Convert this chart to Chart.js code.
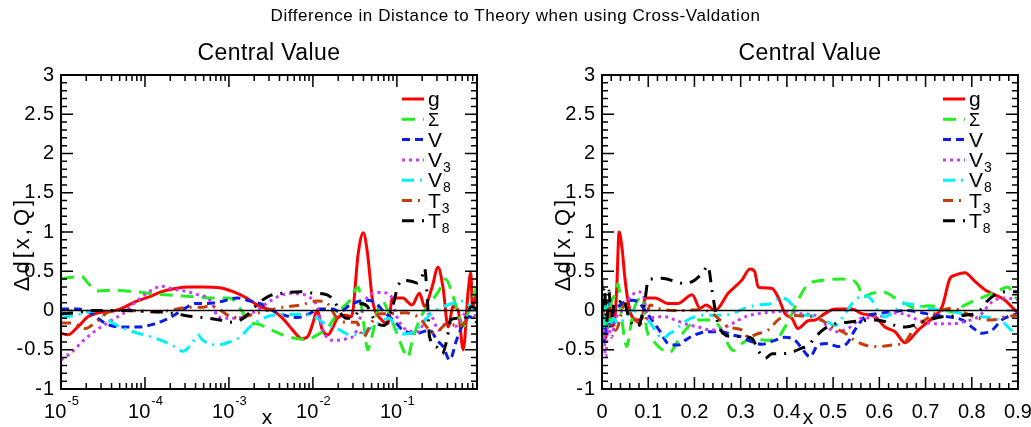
<!DOCTYPE html>
<html>
<head>
<meta charset="utf-8">
<script src="https://cdn.jsdelivr.net/npm/chart.js@4/dist/chart.umd.min.js"></script>
<style>
  body { margin: 0; background: #fff; width: 1031px; height: 427px; overflow: hidden; position: relative; font-family: "Liberation Sans", Arial, sans-serif; }
  #title { position: absolute; top: 6px; left: 0; width: 1031px; text-align: center; font-size: 17px; letter-spacing: 0.55px; color: #000; }
  #c1 { position: absolute; left: 0; top: 0; }
  #c2 { position: absolute; left: 541px; top: 0; }
</style>
</head>
<body>
<canvas id="c1" width="541" height="427"></canvas>
<canvas id="c2" width="490" height="427"></canvas>
<div id="title">Difference in Distance to Theory when using Cross-Valdation</div>
<script>
// series names and legend text (main + subscript)
const seriesNames = ['g', 'Σ', 'V', 'V3', 'V8', 'T3', 'T8'];
const legendMain = ['g', 'Σ', 'V', 'V', 'V', 'T', 'T'];
const legendSub = ['', '', '', '3', '8', '3', '8'];

// ---- left panel, x given as log10(x) ----
const leftX_g = [-5,-4.92,-4.8,-4.68,-4.56,-4.39,-4.27,-4.12,-3.96,-3.8,-3.64,-3.49,-3.32,-3.11,-2.95,-2.79,-2.63,-2.48,-2.36,-2.24,-2.13,-2.06,-2,-1.95,-1.89,-1.82,-1.76,-1.71,-1.62,-1.54,-1.46,-1.4,-1.35,-1.29,-1.18,-1.11,-1.05,-0.93,-0.82,-0.73,-0.67,-0.58,-0.51,-0.45,-0.39,-0.33,-0.27,-0.21,-0.15,-0.12,-0.1,-0.05];
const leftY_g = [-0.29,-0.31,-0.21,-0.08,-0.03,-0.01,0.03,0.11,0.17,0.24,0.28,0.3,0.3,0.29,0.24,0.16,0.05,0,-0.1,-0.25,-0.36,-0.33,-0.16,0,-0.24,-0.31,-0.21,-0.1,-0.06,-0.08,0.73,0.99,0.73,0.13,-0.12,-0.17,0.16,0.16,0.07,0.22,0.05,0.3,0.55,0.29,-0.21,0.05,0,-0.5,0.26,0.48,0.05,0.22];

const leftX_S = [-5,-4.75,-4.68,-4.57,-4.36,-4.12,-3.88,-3.61,-3.37,-3.23,-2.99,-2.85,-2.75,-2.67,-2.49,-2.27,-2.07,-1.98,-1.83,-1.68,-1.56,-1.46,-1.42,-1.38,-1.35,-1.29,-1.23,-1.18,-1.08,-1,-0.94,-0.87,-0.82,-0.76,-0.7,-0.6,-0.5,-0.42,-0.35,-0.28,-0.2,-0.12,-0.05];
const leftY_S = [0.41,0.43,0.35,0.25,0.26,0.24,0.21,0.19,0.17,0.16,0.16,0,-0.16,-0.17,-0.25,-0.34,-0.37,-0.33,-0.22,0,0.13,0.3,0.05,-0.29,-0.5,-0.3,0,0.13,-0.08,-0.29,-0.46,-0.6,-0.4,-0.2,-0.05,0.1,0.25,0.4,0.25,0,-0.2,0.1,0.3];

const leftX_V = [-5,-4.8,-4.63,-4.56,-4.44,-4.27,-4.08,-3.92,-3.76,-3.64,-3.52,-3.4,-3.26,-3.11,-2.9,-2.75,-2.61,-2.48,-2.31,-2.18,-2.04,-1.92,-1.76,-1.68,-1.56,-1.38,-1.29,-1.15,-1,-0.93,-0.76,-0.61,-0.52,-0.45,-0.37,-0.29,-0.21,-0.13,-0.05];
const leftY_V = [0.02,0.02,-0.04,-0.1,-0.18,-0.21,-0.21,-0.18,-0.12,-0.05,0.03,0.09,0.09,0.11,0.16,0.12,0.08,0,-0.07,-0.09,-0.04,0.02,0.02,-0.02,0.07,0.13,0.12,-0.02,-0.17,-0.25,-0.29,-0.25,-0.38,-0.46,-0.63,-0.38,-0.17,-0.08,-0.15];

const leftX_V3 = [-5,-4.87,-4.75,-4.63,-4.48,-4.36,-4.26,-4.15,-4.04,-3.92,-3.8,-3.73,-3.61,-3.49,-3.37,-3.27,-3.18,-3.14,-2.99,-2.83,-2.67,-2.55,-2.43,-2.27,-2.15,-2.04,-1.95,-1.88,-1.76,-1.6,-1.5,-1.41,-1.35,-1.2,-1.08,-1,-0.88,-0.75,-0.61,-0.5,-0.4,-0.3,-0.2,-0.1,-0.05];
const leftY_V3 = [-0.63,-0.53,-0.4,-0.29,-0.18,-0.1,-0.04,0.07,0.17,0.26,0.31,0.29,0.26,0.24,0.2,0.17,0.05,-0.08,-0.1,-0.08,0,0.09,0.17,0.22,0.21,0.17,0.05,-0.25,-0.38,-0.36,-0.3,0,0.17,0.23,0.2,-0.08,-0.25,-0.27,-0.04,-0.25,-0.15,-0.2,-0.05,0.05,-0.1];

const leftX_V8 = [-5,-4.83,-4.68,-4.56,-4.44,-4.27,-4.08,-3.88,-3.68,-3.55,-3.44,-3.37,-3.31,-3.14,-2.99,-2.87,-2.75,-2.63,-2.48,-2.31,-2.15,-2,-1.85,-1.68,-1.56,-1.44,-1.35,-1.23,-1.1,-0.93,-0.8,-0.7,-0.6,-0.45,-0.3,-0.2,-0.12,-0.05];
const leftY_V8 = [-0.09,-0.06,-0.02,0,-0.12,-0.22,-0.29,-0.35,-0.44,-0.52,-0.42,-0.31,-0.38,-0.44,-0.4,-0.34,-0.21,-0.12,-0.06,-0.05,-0.05,-0.07,-0.17,-0.25,-0.31,-0.31,-0.25,-0.17,-0.1,-0.3,-0.28,-0.17,-0.05,0.05,0.1,0.12,0.05,0];

const leftX_T3 = [-5,-4.87,-4.71,-4.6,-4.51,-4.44,-4.27,-4,-3.88,-3.7,-3.49,-3.32,-3.23,-3.11,-2.95,-2.83,-2.71,-2.55,-2.36,-2.15,-1.95,-1.85,-1.71,-1.6,-1.48,-1.4,-1.3,-1.2,-1.08,-0.9,-0.75,-0.55,-0.4,-0.25,-0.12,-0.05];
const leftY_T3 = [-0.16,-0.16,-0.23,-0.16,-0.08,-0.02,0,-0.01,-0.02,0,0.04,0.04,0.06,0.01,-0.09,-0.08,-0.05,0,0.04,0.07,0.12,0.11,-0.1,-0.15,-0.15,-0.34,-0.15,-0.04,-0.04,-0.03,-0.08,-0.29,-0.17,-0.2,-0.08,-0.1];

const leftX_T8 = [-5,-4.83,-4.6,-4.27,-4.04,-3.8,-3.64,-3.49,-3.32,-3.11,-2.95,-2.83,-2.75,-2.63,-2.51,-2.36,-2.15,-1.98,-1.83,-1.74,-1.68,-1.6,-1.5,-1.42,-1.35,-1.25,-1.15,-1.05,-0.99,-0.93,-0.82,-0.76,-0.7,-0.67,-0.64,-0.61,-0.52,-0.46,-0.4,-0.36,-0.28,-0.21,-0.11,-0.05];
const leftY_T8 = [-0.04,-0.03,0,0,-0.01,-0.02,-0.04,-0.07,-0.09,-0.12,-0.15,-0.1,-0.02,0.11,0.19,0.22,0.24,0.22,0.2,0.11,-0.02,-0.1,-0.08,0.09,0.05,-0.15,-0.19,0.05,0.3,0.39,0.37,0.35,0.43,0.54,0.2,-0.34,-0.47,-0.55,-0.35,-0.12,-0.1,-0.12,0.05,0.02];

// ---- right panel, linear x ----
const rightX_g = [0,0.008,0.015,0.022,0.028,0.032,0.037,0.043,0.05,0.056,0.065,0.076,0.087,0.093,0.115,0.143,0.164,0.195,0.212,0.225,0.245,0.273,0.303,0.32,0.33,0.338,0.346,0.368,0.381,0.396,0.411,0.424,0.446,0.461,0.482,0.504,0.541,0.562,0.591,0.612,0.634,0.656,0.684,0.714,0.736,0.753,0.764,0.785,0.807,0.829,0.85,0.872,0.889,0.9];
const rightY_g = [-0.1,-0.35,0.1,-0.2,-0.1,0.3,1,0.81,0.39,0.13,-0.08,-0.12,-0.1,0.16,0.16,0.09,0.09,0.2,0.03,0.07,0,0.22,0.39,0.53,0.5,0.3,0.29,0.28,0.17,-0.04,-0.1,-0.23,-0.13,-0.12,-0.04,0.02,0.02,-0.04,-0.08,-0.21,-0.27,-0.41,-0.25,-0.1,0.05,0.41,0.45,0.48,0.37,0.26,0.2,0.13,0.03,-0.03];

const rightX_S = [0,0.005,0.012,0.02,0.028,0.035,0.043,0.054,0.062,0.071,0.087,0.097,0.108,0.126,0.147,0.165,0.18,0.208,0.235,0.255,0.27,0.284,0.303,0.325,0.353,0.378,0.396,0.411,0.424,0.446,0.46,0.482,0.519,0.541,0.554,0.565,0.584,0.612,0.634,0.656,0.677,0.706,0.736,0.757,0.779,0.807,0.833,0.857,0.878,0.893,0.9];
const rightY_S = [0.42,0,-0.3,0.1,0.2,0.34,-0.12,-0.46,-0.2,0.05,0.17,-0.25,-0.36,-0.48,-0.53,-0.38,-0.25,-0.12,-0.12,-0.21,-0.4,-0.51,-0.42,-0.36,-0.38,-0.36,-0.21,-0.04,0.13,0.34,0.37,0.39,0.4,0.39,0.32,0.17,0.22,0.23,0.16,0.09,0.03,0.06,0.03,-0.02,0.05,0.13,0.19,0.25,0.3,0.17,0.15];

const rightX_V = [0,0.006,0.012,0.018,0.025,0.035,0.05,0.065,0.08,0.093,0.108,0.126,0.143,0.165,0.18,0.201,0.229,0.26,0.281,0.303,0.325,0.346,0.374,0.396,0.418,0.432,0.45,0.467,0.489,0.511,0.53,0.547,0.569,0.597,0.627,0.656,0.684,0.72,0.749,0.779,0.8,0.822,0.844,0.865,0.887,0.9];
const rightY_V = [0,-0.4,0.1,-0.2,0,0.05,0.11,0.13,0.1,0,-0.12,-0.27,-0.42,-0.44,-0.38,-0.31,-0.27,-0.27,-0.31,-0.34,-0.4,-0.43,-0.38,-0.34,-0.38,-0.48,-0.59,-0.44,-0.42,-0.46,-0.42,-0.25,-0.08,-0.04,-0.02,0,-0.02,-0.06,-0.08,-0.12,-0.21,-0.29,-0.25,-0.12,-0.06,-0.04];

const rightX_V3 = [0,0.004,0.008,0.013,0.02,0.03,0.043,0.056,0.078,0.09,0.1,0.115,0.136,0.158,0.18,0.208,0.238,0.26,0.281,0.31,0.338,0.368,0.396,0.43,0.46,0.482,0.504,0.532,0.562,0.591,0.612,0.634,0.656,0.684,0.72,0.757,0.785,0.814,0.844,0.865,0.887,0.9];
const rightY_V3 = [0.3,-0.3,-0.59,-0.2,-0.34,-0.1,0,0.13,0.24,0.18,-0.12,-0.08,-0.08,-0.12,-0.17,-0.21,-0.25,-0.23,-0.17,-0.08,-0.04,-0.02,-0.01,-0.04,-0.06,-0.17,-0.27,-0.23,-0.1,-0.09,-0.06,-0.03,-0.05,-0.12,-0.17,-0.17,-0.14,-0.08,0.11,0.16,0.15,0.14];

const rightX_V8 = [0,0.005,0.01,0.016,0.025,0.035,0.05,0.065,0.08,0.1,0.115,0.13,0.145,0.158,0.18,0.201,0.229,0.26,0.281,0.31,0.338,0.368,0.385,0.4,0.418,0.432,0.446,0.461,0.482,0.504,0.526,0.547,0.569,0.584,0.597,0.612,0.634,0.656,0.677,0.706,0.736,0.764,0.792,0.822,0.85,0.872,0.887,0.9];
const rightY_V8 = [-0.55,-0.1,0.1,-0.2,-0.1,-0.17,-0.1,0,-0.03,-0.12,-0.25,-0.36,-0.3,-0.25,-0.14,-0.08,-0.06,-0.06,-0.04,0.03,0.07,0.09,0.16,0.14,0.03,-0.06,-0.06,-0.08,-0.12,-0.19,-0.04,0.13,0.19,0.13,0,-0.08,0,0.09,0.07,0.03,0,-0.02,-0.06,-0.08,-0.1,-0.17,-0.25,-0.21];

const rightX_T3 = [0,0.007,0.013,0.02,0.03,0.05,0.065,0.087,0.095,0.104,0.121,0.151,0.18,0.208,0.234,0.255,0.273,0.303,0.316,0.335,0.359,0.381,0.402,0.43,0.46,0.48,0.498,0.526,0.541,0.569,0.597,0.627,0.656,0.671,0.699,0.727,0.757,0.785,0.814,0.844,0.872,0.9];
const rightY_T3 = [-0.12,0.1,0.05,-0.2,-0.25,0.09,-0.08,-0.17,-0.1,0.07,0.03,0,0,0.01,-0.02,-0.12,-0.21,-0.25,-0.34,-0.3,-0.25,-0.12,-0.06,-0.07,-0.08,-0.14,-0.21,-0.29,-0.36,-0.44,-0.46,-0.44,-0.4,-0.27,-0.12,-0.02,0.03,-0.03,-0.1,-0.12,-0.08,-0.06];

const rightX_T8 = [0,0.005,0.01,0.015,0.02,0.027,0.035,0.045,0.06,0.078,0.087,0.093,0.1,0.13,0.158,0.18,0.201,0.219,0.229,0.238,0.245,0.251,0.262,0.281,0.303,0.325,0.338,0.353,0.368,0.389,0.411,0.432,0.446,0.461,0.482,0.504,0.532,0.562,0.591,0.612,0.634,0.656,0.684,0.706,0.736,0.764,0.785,0.814,0.835,0.857,0.878,0.9];
const rightY_T8 = [0,0.3,-0.15,0.25,-0.1,0.1,0.09,0.15,-0.12,-0.21,-0.05,0.13,0.39,0.41,0.37,0.34,0.39,0.49,0.57,0.26,0,-0.17,-0.29,-0.33,-0.33,-0.36,-0.51,-0.61,-0.55,-0.55,-0.53,-0.48,-0.45,-0.34,-0.23,-0.17,-0.15,-0.13,-0.12,-0.14,-0.19,-0.21,-0.17,-0.12,-0.08,-0.07,-0.06,-0.02,0.13,0.22,0.24,0.24];

// axis ticks
const yTicks = [3, 2.5, 2, 1.5, 1, 0.5, 0, -0.5, -1];
const leftDecades = [-5, -4, -3, -2, -1];
const rightXTicks = [0, 0.1, 0.2, 0.3, 0.4, 0.5, 0.6, 0.7, 0.8, 0.9];

const leftXs = [leftX_g, leftX_S, leftX_V, leftX_V3, leftX_V8, leftX_T3, leftX_T8];
const leftYs = [leftY_g, leftY_S, leftY_V, leftY_V3, leftY_V8, leftY_T3, leftY_T8];
const rightXs = [rightX_g, rightX_S, rightX_V, rightX_V3, rightX_V8, rightX_T3, rightX_T8];
const rightYs = [rightY_g, rightY_S, rightY_V, rightY_V3, rightY_V8, rightY_T3, rightY_T8];

const styles = [
  { color: '#ff0000', dash: [] },
  { color: '#22ee22', dash: [13, 8] },
  { color: '#0a1ee6', dash: [8, 5] },
  { color: '#c83cf5', dash: [3, 4] },
  { color: '#00f0ff', dash: [12, 6, 2, 6] },
  { color: '#c83c0a', dash: [10, 6, 2, 6] },
  { color: '#000000', dash: [12, 8, 2, 8] },
];

const FONT = '"Liberation Sans", Arial, sans-serif';

function makeSets(xs, ys, isLog) {
  return xs.map((xa, i) => ({
    label: seriesNames[i],
    data: xa.map((x, j) => ({ x: isLog ? Math.pow(10, x) : x, y: ys[i][j] })),
    borderColor: styles[i].color,
    borderDash: styles[i].dash,
    borderWidth: 3,
    pointRadius: 0,
    fill: false,
    cubicInterpolationMode: 'monotone',
    order: 6 - i,
  }));
}

// ROOT-like frame: box, inner ticks, labels, titles, legend
const rootFrame = {
  id: 'rootFrame',
  afterDatasetsDraw(chart) {
    const { ctx, chartArea: a, scales } = chart;
    const y0 = scales.y.getPixelForValue(0);
    ctx.save();
    ctx.strokeStyle = '#000';
    ctx.lineWidth = 1.5;
    ctx.beginPath();
    ctx.moveTo(a.left, y0);
    ctx.lineTo(a.right, y0);
    ctx.stroke();
    ctx.restore();
  },
  afterDraw(chart, args, opts) {
    const { ctx, chartArea: a, scales } = chart;
    const sx = scales.x, sy = scales.y;
    ctx.save();
    ctx.strokeStyle = '#000';
    ctx.fillStyle = '#000';
    ctx.lineWidth = 2;
    ctx.strokeRect(a.left, a.top, a.right - a.left, a.bottom - a.top);

    // y ticks every 0.1, major every 0.5
    ctx.lineWidth = 1.5;
    ctx.beginPath();
    for (let k = -10; k <= 30; k++) {
      const py = sy.getPixelForValue(k / 10);
      const len = k % 5 === 0 ? 12 : 6;
      ctx.moveTo(a.left, py); ctx.lineTo(a.left + len, py);
      ctx.moveTo(a.right, py); ctx.lineTo(a.right - len, py);
    }
    // x ticks
    if (opts.log) {
      for (const d of leftDecades) {
        for (let m = 1; m <= 9; m++) {
          const v = m * Math.pow(10, d);
          if (v > sx.max * 1.0001) break;
          const px = sx.getPixelForValue(v);
          const len = m === 1 ? 12 : 6;
          ctx.moveTo(px, a.bottom); ctx.lineTo(px, a.bottom - len);
          ctx.moveTo(px, a.top); ctx.lineTo(px, a.top + len);
        }
      }
    } else {
      for (let k = 0; k <= 45; k++) {
        const px = sx.getPixelForValue(k * 0.02);
        const len = k % 5 === 0 ? 12 : 6;
        ctx.moveTo(px, a.bottom); ctx.lineTo(px, a.bottom - len);
        ctx.moveTo(px, a.top); ctx.lineTo(px, a.top + len);
      }
    }
    ctx.stroke();

    // y tick labels
    ctx.font = '20px ' + FONT;
    ctx.letterSpacing = '1px';
    ctx.textAlign = 'right';
    ctx.textBaseline = 'middle';
    for (const v of yTicks) {
      ctx.fillText(String(v), a.left - 6, sy.getPixelForValue(v));
    }
    ctx.letterSpacing = '0px';

    // x tick labels
    ctx.textBaseline = 'alphabetic';
    if (opts.log) {
      for (const d of leftDecades) {
        const px = sx.getPixelForValue(Math.pow(10, d));
        ctx.font = '20px ' + FONT;
        const w1 = ctx.measureText('10').width;
        ctx.font = '13px ' + FONT;
        const w2 = ctx.measureText(String(d)).width;
        const x0 = px - (w1 + w2) / 2;
        ctx.textAlign = 'left';
        ctx.font = '20px ' + FONT;
        ctx.fillText('10', x0, 418);
        ctx.font = '13px ' + FONT;
        ctx.fillText(String(d), x0 + w1 + 1, 405);
      }
    } else {
      ctx.textAlign = 'center';
      ctx.font = '20px ' + FONT;
      for (const v of rightXTicks) {
        ctx.fillText(v === 0 ? '0' : v.toFixed(1), sx.getPixelForValue(v), 418);
      }
    }

    // axis titles
    ctx.textAlign = 'center';
    ctx.font = '21px ' + FONT;
    ctx.fillText('x', (a.left + a.right) / 2 - 2, 424);
    ctx.save();
    ctx.translate(23, 244);
    ctx.rotate(-Math.PI / 2);
    ctx.textBaseline = 'middle';
    ctx.font = '22px ' + FONT;
    ctx.letterSpacing = '3px';
    ctx.fillText('Δd[x,Q]', 0, 0);
    ctx.restore();

    // panel title
    ctx.font = '23px ' + FONT;
    ctx.letterSpacing = '0.4px';
    ctx.fillText('Central Value', (a.left + a.right) / 2, 60);
    ctx.letterSpacing = '0px';

    // legend
    for (let i = 0; i < seriesNames.length; i++) {
      const ry = 99 + i * 20.3;
      ctx.save();
      ctx.strokeStyle = styles[i].color;
      ctx.lineWidth = 3;
      ctx.setLineDash(styles[i].dash);
      ctx.beginPath();
      ctx.moveTo(a.right - 75, ry);
      ctx.lineTo(a.right - 53, ry);
      ctx.stroke();
      ctx.restore();
      ctx.textAlign = 'left';
      ctx.font = (i === 1 ? '18px ' : '21px ') + FONT;
      ctx.fillText(legendMain[i], a.right - 49, ry + 7);
      if (legendSub[i]) {
        const w = ctx.measureText(legendMain[i]).width;
        ctx.font = '14px ' + FONT;
        ctx.fillText(legendSub[i], a.right - 49 + w + 1, ry + 12);
      }
    }
    ctx.restore();
  }
};

function makeChart(id, xs, ys, isLog, padRight) {
  return new Chart(document.getElementById(id), {
    type: 'line',
    data: { datasets: makeSets(xs, ys, isLog) },
    options: {
      responsive: false,
      animation: false,
      devicePixelRatio: 1,
      layout: { padding: { left: 61, right: padRight, top: 75, bottom: 38 } },
      scales: {
        x: isLog
          ? { type: 'logarithmic', min: 1e-5, max: 0.9, display: false }
          : { type: 'linear', min: 0, max: 0.9, display: false },
        y: { type: 'linear', min: -1, max: 3, display: false },
      },
      plugins: {
        legend: { display: false },
        title: { display: false },
        tooltip: { enabled: false },
        rootFrame: { log: isLog },
      },
    },
    plugins: [rootFrame],
  });
}

makeChart('c1', leftXs, leftYs, true, 64);
makeChart('c2', rightXs, rightYs, false, 13);
</script>
</body>
</html>
